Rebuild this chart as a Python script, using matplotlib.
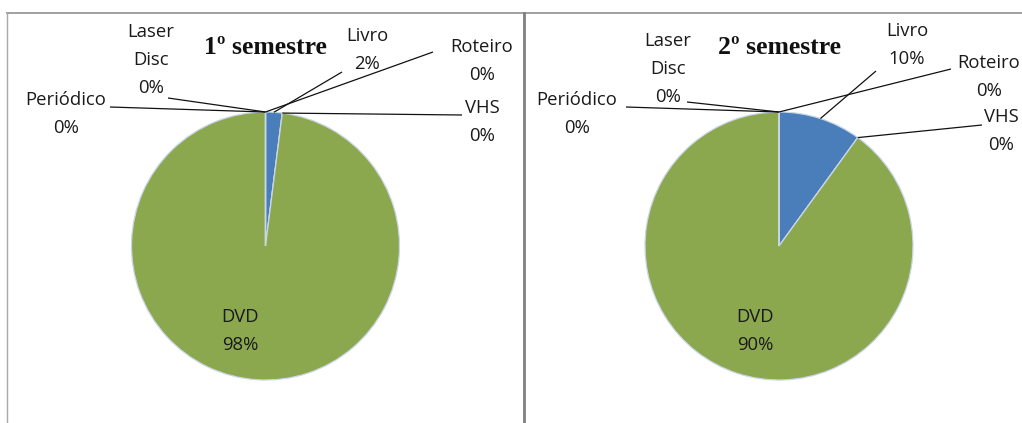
import matplotlib
matplotlib.use("Agg")
import matplotlib.pyplot as plt
import numpy as np

# ---- data ----
categories = ["Livro", "VHS", "DVD", "Periódico", "Laser Disc", "Roteiro"]
sem1_values = [2, 0, 98, 0, 0, 0]
sem2_values = [10, 0, 90, 0, 0, 0]
titles = ["1º semestre", "2º semestre"]
label_texts = {"Livro": "Livro", "VHS": "VHS", "DVD": "DVD",
               "Periódico": "Periódico", "Laser Disc": "Laser\nDisc", "Roteiro": "Roteiro"}

colors = ["#4A7EBB", "#C0504D", "#8CA84F", "#8064A2", "#4BACC6", "#F79646"]

W, H = 1022, 423
fig = plt.figure(figsize=(W / 100, H / 100), dpi=100)
ax = fig.add_axes([0, 0, 1, 1])

def Y(y):
    return H - y

# panel layout (pixel coords, y from top)
panels = [
    dict(cx=265.5, cy=246, r=134, title_xy=(265, 47),
         labels={"Livro": (367, 50),
                 "Roteiro": (482, 61),
                 "VHS": (482, 122),
                 "Periódico": (66, 114),
                 "Laser Disc": (151, 60),
                 "DVD": (240, 331)},
         leader_start={"Livro": (342, 72), "Roteiro": (433, 52), "VHS": (462, 115),
                       "Periódico": (110, 107), "Laser Disc": (168, 98)}),
    dict(cx=779, cy=246, r=134, title_xy=(779, 47),
         labels={"Livro": (907, 45),
                 "Roteiro": (989, 77),
                 "VHS": (1001, 131),
                 "Periódico": (577, 114),
                 "Laser Disc": (668, 69),
                 "DVD": (755, 331)},
         leader_start={"Livro": (876, 71), "Roteiro": (951, 69), "VHS": (982, 125),
                       "Periódico": (626, 107), "Laser Disc": (687, 102)}),
]

label_font = dict(family=["Open Sans", "DejaVu Sans"], fontsize=13.3, color="#1A1A1A")

for vals, p, title in zip([sem1_values, sem2_values], panels, titles):
    total = sum(vals)
    wedges, _ = ax.pie(vals, colors=colors, startangle=90, counterclock=False,
                       center=(p["cx"], Y(p["cy"])), radius=p["r"], frame=True,
                       wedgeprops=dict(edgecolor="#C9D6E6", linewidth=0.9))
    ax.text(p["title_xy"][0], Y(p["title_xy"][1]), title, ha="center", va="center",
            family="Liberation Serif", fontweight="bold", fontsize=18.5, color="#111111")
    for cat, v, w in zip(categories, vals, wedges):
        pct = f"{round(v / total * 100)}%"
        lx, ly = p["labels"][cat]
        ax.text(lx, Y(ly), f"{label_texts[cat]}\n{pct}", ha="center", va="center",
                linespacing=1.68, **label_font)
        if cat in p["leader_start"]:
            mid = np.deg2rad((w.theta1 + w.theta2) / 2)
            ex = p["cx"] + p["r"] * np.cos(mid)
            ey = Y(p["cy"]) + p["r"] * np.sin(mid)
            sx, sy = p["leader_start"][cat]
            ax.plot([sx, ex], [Y(sy), ey], color="#111111", lw=0.9, solid_capstyle="butt")

# panel borders
ax.plot([7, W], [Y(13), Y(13)], color="#9A9A9A", lw=1.3)
ax.plot([7, 7], [Y(13), 0], color="#A8A8A8", lw=1.0)
ax.plot([524, 524], [Y(13), 0], color="#808080", lw=2.0)

ax.set_xlim(0, W)
ax.set_ylim(0, H)
ax.set_aspect("auto")
ax.axis("off")

fig.savefig("out.png", dpi=100, facecolor="white")
